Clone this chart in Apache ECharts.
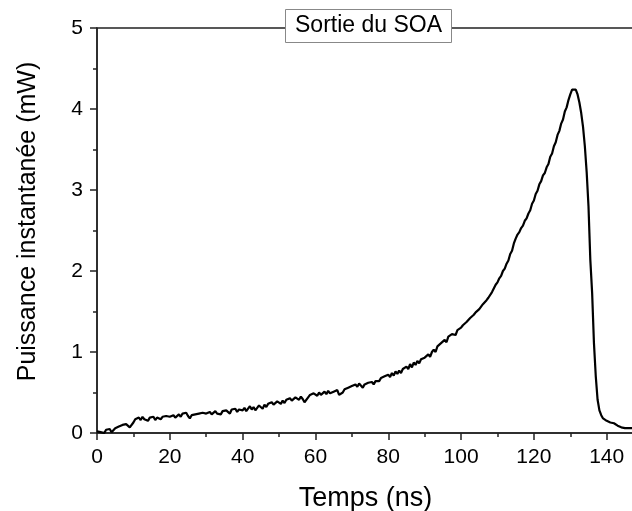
<!DOCTYPE html>
<html>
<head>
<meta charset="utf-8">
<script src="https://cdn.jsdelivr.net/npm/echarts@6/dist/echarts.min.js"></script>
<style>
  html, body { margin: 0; padding: 0; background: #fff; }
  #chart { width: 632px; height: 511px; }
</style>
</head>
<body>
<div id="chart"></div>
<script>
// Sampling step of the oscilloscope trace (ns)
const sampleStep = 0.5;

// Instantaneous power at the SOA output (mW), one value every 0.5 ns from t = 0
const powerMW = [
  0.02, 0.04, 0.01, 0.03, 0.00, 0.04, 0.02, 0.05, 0.01, 0.03,
  0.06, 0.04, 0.08, 0.07, 0.10, 0.08, 0.11, 0.09, 0.07, 0.06,
  0.13, 0.17, 0.15, 0.19, 0.16, 0.20, 0.17, 0.18, 0.15, 0.19,
  0.17, 0.20, 0.16, 0.19, 0.21, 0.17, 0.20, 0.18, 0.21, 0.19,
  0.20, 0.18, 0.22, 0.19, 0.21, 0.23, 0.20, 0.24, 0.22, 0.25,
  0.21, 0.18, 0.22, 0.20, 0.23, 0.21, 0.24, 0.22, 0.25, 0.23,
  0.24, 0.22, 0.26, 0.23, 0.25, 0.27, 0.24, 0.26, 0.23, 0.27,
  0.25, 0.28, 0.26, 0.24, 0.29, 0.27, 0.30, 0.26, 0.29, 0.27,
  0.28, 0.31, 0.27, 0.30, 0.33, 0.29, 0.32, 0.28, 0.31, 0.34,
  0.33, 0.30, 0.35, 0.32, 0.36, 0.34, 0.38, 0.35, 0.37, 0.39,
  0.38, 0.36, 0.40, 0.37, 0.41, 0.39, 0.43, 0.40, 0.42, 0.44,
  0.43, 0.41, 0.45, 0.42, 0.38, 0.36, 0.44, 0.47, 0.45, 0.49,
  0.48, 0.46, 0.50, 0.47, 0.49, 0.51, 0.48, 0.52, 0.49, 0.50,
  0.51, 0.49, 0.53, 0.47, 0.45, 0.50, 0.54, 0.52, 0.56, 0.55,
  0.58, 0.56, 0.60, 0.57, 0.61, 0.59, 0.56, 0.60, 0.58, 0.62,
  0.61, 0.63, 0.60, 0.64, 0.66, 0.64, 0.68, 0.67, 0.70, 0.69,
  0.72, 0.69, 0.74, 0.71, 0.76, 0.73, 0.77, 0.74, 0.79, 0.78,
  0.82, 0.79, 0.85, 0.81, 0.87, 0.84, 0.89, 0.86, 0.91, 0.90,
  0.93, 0.95, 0.97, 0.94, 1.00, 1.03, 1.00, 1.07, 1.06, 1.11,
  1.12, 1.15, 1.12, 1.19, 1.17, 1.22, 1.23, 1.21, 1.27, 1.26,
  1.30, 1.33, 1.31, 1.37, 1.35, 1.42, 1.40, 1.46, 1.49, 1.47,
  1.53, 1.55, 1.59, 1.57, 1.64, 1.67, 1.66, 1.74, 1.76, 1.83,
  1.86, 1.91, 1.94, 2.00, 2.03, 2.09, 2.13, 2.21, 2.25, 2.34,
  2.40, 2.45, 2.48, 2.53, 2.56, 2.62, 2.65, 2.71, 2.75, 2.83,
  2.87, 2.95, 2.99, 3.07, 3.11, 3.18, 3.21, 3.28, 3.32, 3.41,
  3.45, 3.54, 3.59, 3.68, 3.73, 3.82, 3.87, 3.97, 4.02, 4.11,
  4.18, 4.24, 4.26, 4.24, 4.18, 4.08, 3.95, 3.78, 3.54, 3.22,
  2.80, 2.14, 1.73, 1.11, 0.70, 0.41, 0.28, 0.22, 0.18, 0.17,
  0.15, 0.14, 0.13, 0.12, 0.12, 0.10, 0.09, 0.08, 0.07, 0.06,
  0.06, 0.05, 0.06, 0.05, 0.06, 0.06
];

const titleText = 'Sortie du SOA';
const xAxisName = 'Temps (ns)';
const yAxisName = 'Puissance instantanée (mW)';

const seriesData = powerMW.map((v, i) => [i * sampleStep, v]);

const chart = echarts.init(document.getElementById('chart'), null, { renderer: 'canvas' });
const axisColor = '#222';
const font = 'Liberation Sans, Arial, sans-serif';

chart.setOption({
  animation: false,
  backgroundColor: '#fff',
  title: {
    text: titleText,
    left: 285,
    top: 9,
    padding: [5, 10, 5, 10],
    backgroundColor: '#fff',
    borderColor: '#888',
    borderWidth: 1,
    textStyle: { fontFamily: font, fontSize: 23, fontWeight: 'normal', color: '#000', lineHeight: 24 },
    z: 10
  },
  grid: {
    left: 97,
    top: 28,
    width: 537,
    bottom: 78,
    outerBoundsMode: 'none',
    show: true,
    borderColor: axisColor,
    borderWidth: 1.5,
    backgroundColor: 'transparent'
  },
  xAxis: {
    type: 'value',
    min: 0,
    max: 147.5,
    interval: 20,
    name: xAxisName,
    nameLocation: 'middle',
    nameGap: 52,
    nameTextStyle: { fontFamily: font, fontSize: 27, color: '#000' },
    axisLine: { show: true, onZero: false, lineStyle: { color: axisColor, width: 1.5 } },
    axisTick: { show: true, inside: false, length: 7, lineStyle: { color: axisColor, width: 1.5 } },
    minorTick: { show: true, splitNumber: 2, length: 4, lineStyle: { color: axisColor, width: 1.5 } },
    axisLabel: {
      fontFamily: font, fontSize: 21, color: '#000', margin: 14,
      showMaxLabel: false
    },
    splitLine: { show: false }
  },
  yAxis: {
    type: 'value',
    min: 0,
    max: 5,
    interval: 1,
    name: yAxisName,
    nameLocation: 'middle',
    nameGap: 56,
    nameRotate: 90,
    nameTextStyle: { fontFamily: font, fontSize: 25, color: '#000', padding: [0, 0, 0, 18] },
    axisLine: { show: true, onZero: false, lineStyle: { color: axisColor, width: 1.5 } },
    axisTick: { show: true, inside: false, length: 7, lineStyle: { color: axisColor, width: 1.5 } },
    minorTick: { show: true, splitNumber: 2, length: 4, lineStyle: { color: axisColor, width: 1.5 } },
    axisLabel: { fontFamily: font, fontSize: 21, color: '#000', margin: 14 },
    splitLine: { show: false }
  },
  series: [{
    type: 'line',
    data: seriesData,
    showSymbol: false,
    symbol: 'none',
    lineStyle: { color: '#000', width: 2.2 },
    z: 3
  }]
});
</script>
</body>
</html>
